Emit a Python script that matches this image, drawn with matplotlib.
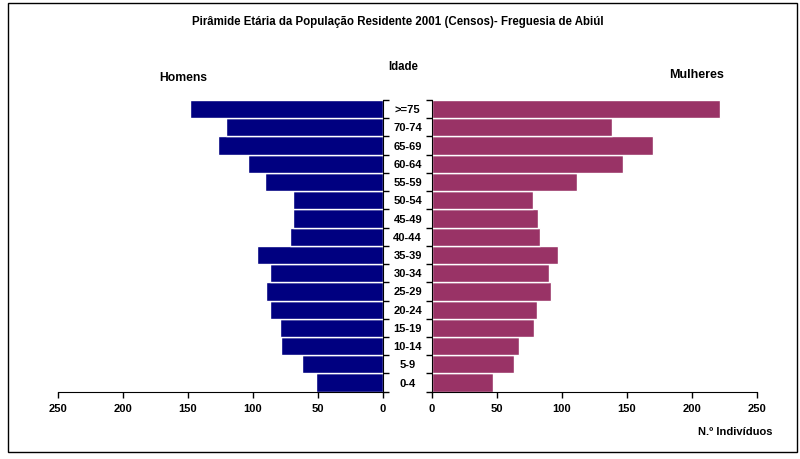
import matplotlib
matplotlib.use("Agg")
from matplotlib import pyplot as plt
from matplotlib.patches import Rectangle

# age groups, bottom to top
ages = ['0-4', '5-9', '10-14', '15-19', '20-24', '25-29', '30-34', '35-39',
        '40-44', '45-49', '50-54', '55-59', '60-64', '65-69', '70-74', '>=75']
homens = [51, 62, 78, 79, 87, 90, 87, 97, 71, 69, 69, 91, 104, 127, 121, 148]
mulheres = [47, 63, 67, 79, 81, 92, 90, 97, 83, 82, 78, 112, 147, 170, 139, 222]
xticks = [0, 50, 100, 150, 200, 250]

plt.rcParams['font.family'] = ['Liberation Sans', 'DejaVu Sans']
plt.rcParams['font.weight'] = 'bold'

fig = plt.figure(figsize=(8, 4.6), dpi=100)
fig.patch.set_facecolor('white')

# frame around the chart area
fig.patches.append(Rectangle((8 / 800, 1 - 453 / 460), 789 / 800, 449 / 460,
                             transform=fig.transFigure, fill=False,
                             edgecolor='black', linewidth=1.0))

y = list(range(len(ages)))
bottom, top = 1 - 392.7 / 460, 1 - 101 / 460

ax1 = fig.add_axes([58 / 800, bottom, (382.7 - 58) / 800, top - bottom])
ax2 = fig.add_axes([431.7 / 800, bottom, (756.7 - 431.7) / 800, top - bottom])

ax1.barh(y, homens, height=1.0, color='#000080', edgecolor='white', linewidth=1)
ax2.barh(y, mulheres, height=1.0, color='#993366', edgecolor='white', linewidth=1)

ax1.set_xlim(250, 0)
ax2.set_xlim(0, 250)
for ax in (ax1, ax2):
    ax.set_ylim(-0.5, len(ages) - 0.5)
    ax.set_xticks(xticks)
    ax.set_xticklabels([str(v) for v in xticks], fontsize=8, fontweight='bold')
    ax.set_yticks([i - 0.5 for i in range(len(ages) + 1)])
    ax.set_yticklabels([])
    ax.spines['top'].set_visible(False)
    ax.tick_params(axis='x', length=4, width=1, pad=4)
    ax.tick_params(axis='y', length=4, width=1)
    ax.set_facecolor('white')

ax1.spines['left'].set_visible(False)
ax1.yaxis.tick_right()
ax1.tick_params(axis='y', direction='out')
ax2.spines['right'].set_visible(False)

# age labels between the two halves
for i, a in enumerate(ages):
    ax1.annotate(a, xy=(1.0, (i + 0.5) / len(ages)), xycoords='axes fraction',
                 xytext=(18, 0), textcoords='offset points',
                 ha='center', va='center', fontsize=8, fontweight='bold')

fig.text(398 / 800, 1 - 22 / 460,
         'Pirâmide Etária da População Residente 2001 (Censos)- Freguesia de Abiúl',
         ha='center', va='center', fontsize=8.3, fontweight='bold')
fig.text(403 / 800, 1 - 67 / 460, 'Idade', ha='center', va='center',
         fontsize=8.3, fontweight='bold')
fig.text(183 / 800, 1 - 78 / 460, 'Homens', ha='center', va='center',
         fontsize=8.7, fontweight='bold')
fig.text(697 / 800, 1 - 75 / 460, 'Mulheres', ha='center', va='center',
         fontsize=9, fontweight='bold')
fig.text(735 / 800, 1 - 432 / 460, 'N.º Indivíduos', ha='center', va='center',
         fontsize=8, fontweight='bold')

fig.savefig('out.png', dpi=100, facecolor='white')
